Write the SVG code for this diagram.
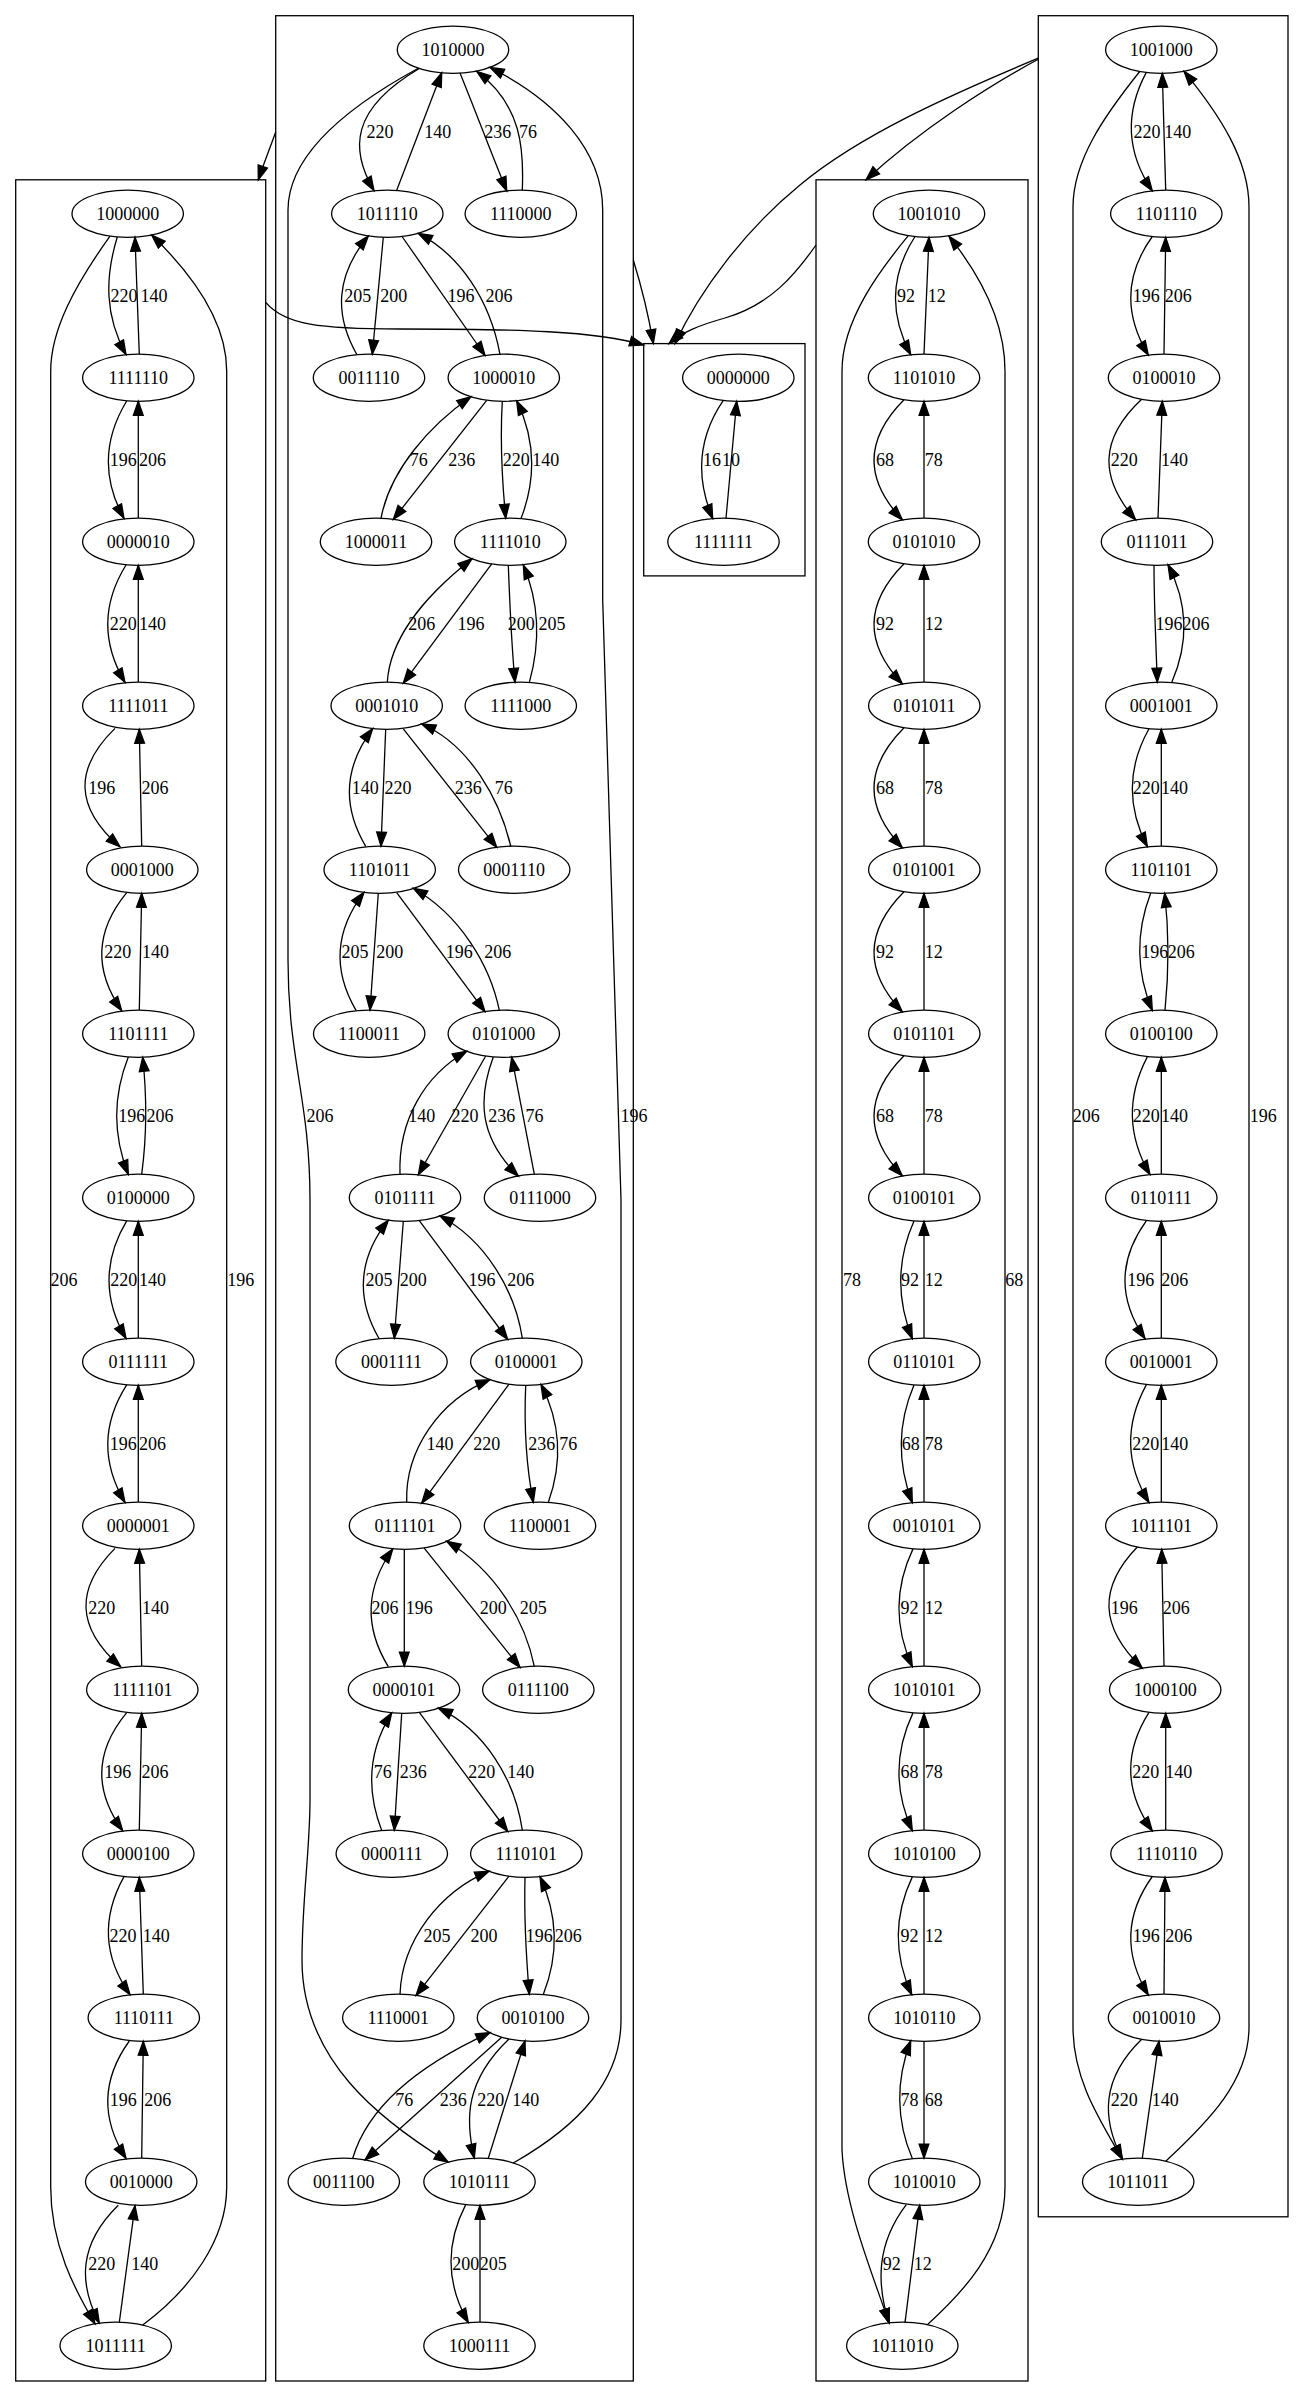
<svg xmlns="http://www.w3.org/2000/svg" width="1304" height="2397" viewBox="0 0 1304 2397">
<style>
text{font-family:"Liberation Serif","Times New Roman",serif;font-size:18px;text-anchor:middle;fill:#000}
.cl{fill:none;stroke:#000;stroke-width:1.3}
.n ellipse{fill:none;stroke:#000;stroke-width:1.3}
#edges path{fill:none;stroke:#000;stroke-width:1.3;marker-end:url(#ah)}
</style>
<defs>
<marker id="ah" markerUnits="userSpaceOnUse" markerWidth="17" markerHeight="13" viewBox="-1 -6.5 17 13" refX="14" refY="0" orient="auto"><path d="M0,-4.9 L14,0 L0,4.9 z" fill="#000" stroke="#000" stroke-width="1.3"/></marker>
</defs>
<rect width="1304" height="2397" fill="#fff"/>
<g id="clusters">
<rect class="cl" x="15.7" y="179.8" width="250" height="2201.2"/>
<rect class="cl" x="275.7" y="15.7" width="357.6" height="2365.3"/>
<rect class="cl" x="643.7" y="343.6" width="161.3" height="232.3"/>
<rect class="cl" x="816" y="179.8" width="212" height="2201.2"/>
<rect class="cl" x="1038.3" y="15.7" width="249.7" height="2201.1"/>
</g>
<g id="nodes">
<g id="n1000000" class="n"><ellipse cx="127.7" cy="213.7" rx="55.7" ry="23.6"/><text x="127.7" y="220">1000000</text></g>
<g id="n1111110" class="n"><ellipse cx="138.3" cy="377.7" rx="55.7" ry="23.6"/><text x="138.3" y="384">1111110</text></g>
<g id="n0000010" class="n"><ellipse cx="138.3" cy="541.7" rx="55.7" ry="23.6"/><text x="138.3" y="548">0000010</text></g>
<g id="n1111011" class="n"><ellipse cx="138.3" cy="705.7" rx="55.7" ry="23.6"/><text x="138.3" y="712">1111011</text></g>
<g id="n0001000" class="n"><ellipse cx="142.3" cy="869.7" rx="55.7" ry="23.6"/><text x="142.3" y="876">0001000</text></g>
<g id="n1101111" class="n"><ellipse cx="138.3" cy="1033.7" rx="55.7" ry="23.6"/><text x="138.3" y="1040">1101111</text></g>
<g id="n0100000" class="n"><ellipse cx="138.3" cy="1197.7" rx="55.7" ry="23.6"/><text x="138.3" y="1204">0100000</text></g>
<g id="n0111111" class="n"><ellipse cx="138.3" cy="1361.7" rx="55.7" ry="23.6"/><text x="138.3" y="1368">0111111</text></g>
<g id="n0000001" class="n"><ellipse cx="138.3" cy="1525.7" rx="55.7" ry="23.6"/><text x="138.3" y="1532">0000001</text></g>
<g id="n1111101" class="n"><ellipse cx="142.3" cy="1689.7" rx="55.7" ry="23.6"/><text x="142.3" y="1696">1111101</text></g>
<g id="n0000100" class="n"><ellipse cx="138.3" cy="1853.7" rx="55.7" ry="23.6"/><text x="138.3" y="1860">0000100</text></g>
<g id="n1110111" class="n"><ellipse cx="143.8" cy="2017.7" rx="55.7" ry="23.6"/><text x="143.8" y="2024">1110111</text></g>
<g id="n0010000" class="n"><ellipse cx="141.2" cy="2181.7" rx="55.7" ry="23.6"/><text x="141.2" y="2188">0010000</text></g>
<g id="n1011111" class="n"><ellipse cx="115.7" cy="2345.7" rx="55.7" ry="23.6"/><text x="115.7" y="2352">1011111</text></g>

<g id="n1010000" class="n"><ellipse cx="453" cy="49.7" rx="55.7" ry="23.6"/><text x="453" y="56">1010000</text></g>
<g id="n1011110" class="n"><ellipse cx="387.3" cy="213.7" rx="55.7" ry="23.6"/><text x="387.3" y="220">1011110</text></g>
<g id="n1110000" class="n"><ellipse cx="520.8" cy="213.7" rx="55.7" ry="23.6"/><text x="520.8" y="220">1110000</text></g>
<g id="n0011110" class="n"><ellipse cx="369" cy="377.7" rx="55.7" ry="23.6"/><text x="369" y="384">0011110</text></g>
<g id="n1000010" class="n"><ellipse cx="503.8" cy="377.7" rx="55.7" ry="23.6"/><text x="503.8" y="384">1000010</text></g>
<g id="n1000011" class="n"><ellipse cx="376" cy="541.7" rx="55.7" ry="23.6"/><text x="376" y="548">1000011</text></g>
<g id="n1111010" class="n"><ellipse cx="510.3" cy="541.7" rx="55.7" ry="23.6"/><text x="510.3" y="548">1111010</text></g>
<g id="n0001010" class="n"><ellipse cx="386.7" cy="705.7" rx="55.7" ry="23.6"/><text x="386.7" y="712">0001010</text></g>
<g id="n1111000" class="n"><ellipse cx="520.8" cy="705.7" rx="55.7" ry="23.6"/><text x="520.8" y="712">1111000</text></g>
<g id="n1101011" class="n"><ellipse cx="379.7" cy="869.7" rx="55.7" ry="23.6"/><text x="379.7" y="876">1101011</text></g>
<g id="n0001110" class="n"><ellipse cx="514.2" cy="869.7" rx="55.7" ry="23.6"/><text x="514.2" y="876">0001110</text></g>
<g id="n1100011" class="n"><ellipse cx="369.2" cy="1033.7" rx="55.7" ry="23.6"/><text x="369.2" y="1040">1100011</text></g>
<g id="n0101000" class="n"><ellipse cx="503.8" cy="1033.7" rx="55.7" ry="23.6"/><text x="503.8" y="1040">0101000</text></g>
<g id="n0101111" class="n"><ellipse cx="405" cy="1197.7" rx="55.7" ry="23.6"/><text x="405" y="1204">0101111</text></g>
<g id="n0111000" class="n"><ellipse cx="540" cy="1197.7" rx="55.7" ry="23.6"/><text x="540" y="1204">0111000</text></g>
<g id="n0001111" class="n"><ellipse cx="391.5" cy="1361.7" rx="55.7" ry="23.6"/><text x="391.5" y="1368">0001111</text></g>
<g id="n0100001" class="n"><ellipse cx="526.3" cy="1361.7" rx="55.7" ry="23.6"/><text x="526.3" y="1368">0100001</text></g>
<g id="n0111101" class="n"><ellipse cx="405" cy="1525.7" rx="55.7" ry="23.6"/><text x="405" y="1532">0111101</text></g>
<g id="n1100001" class="n"><ellipse cx="540" cy="1525.7" rx="55.7" ry="23.6"/><text x="540" y="1532">1100001</text></g>
<g id="n0000101" class="n"><ellipse cx="404" cy="1689.7" rx="55.7" ry="23.6"/><text x="404" y="1696">0000101</text></g>
<g id="n0111100" class="n"><ellipse cx="538.3" cy="1689.7" rx="55.7" ry="23.6"/><text x="538.3" y="1696">0111100</text></g>
<g id="n0000111" class="n"><ellipse cx="391.8" cy="1853.7" rx="55.7" ry="23.6"/><text x="391.8" y="1860">0000111</text></g>
<g id="n1110101" class="n"><ellipse cx="526.3" cy="1853.7" rx="55.7" ry="23.6"/><text x="526.3" y="1860">1110101</text></g>
<g id="n1110001" class="n"><ellipse cx="398.3" cy="2017.7" rx="55.7" ry="23.6"/><text x="398.3" y="2024">1110001</text></g>
<g id="n0010100" class="n"><ellipse cx="533" cy="2017.7" rx="55.7" ry="23.6"/><text x="533" y="2024">0010100</text></g>
<g id="n0011100" class="n"><ellipse cx="343.8" cy="2181.7" rx="55.7" ry="23.6"/><text x="343.8" y="2188">0011100</text></g>
<g id="n1010111" class="n"><ellipse cx="479.5" cy="2181.7" rx="55.7" ry="23.6"/><text x="479.5" y="2188">1010111</text></g>
<g id="n1000111" class="n"><ellipse cx="479.5" cy="2345.7" rx="55.7" ry="23.6"/><text x="479.5" y="2352">1000111</text></g>

<g id="n0000000" class="n"><ellipse cx="738.3" cy="377.7" rx="55.7" ry="23.6"/><text x="738.3" y="384">0000000</text></g>
<g id="n1111111" class="n"><ellipse cx="723.5" cy="541.7" rx="55.7" ry="23.6"/><text x="723.5" y="548">1111111</text></g>

<g id="n1001010" class="n"><ellipse cx="929" cy="213.7" rx="55.7" ry="23.6"/><text x="929" y="220">1001010</text></g>
<g id="n1101010" class="n"><ellipse cx="924" cy="377.7" rx="55.7" ry="23.6"/><text x="924" y="384">1101010</text></g>
<g id="n0101010" class="n"><ellipse cx="924" cy="541.7" rx="55.7" ry="23.6"/><text x="924" y="548">0101010</text></g>
<g id="n0101011" class="n"><ellipse cx="924.3" cy="705.7" rx="55.7" ry="23.6"/><text x="924.3" y="712">0101011</text></g>
<g id="n0101001" class="n"><ellipse cx="924.3" cy="869.7" rx="55.7" ry="23.6"/><text x="924.3" y="876">0101001</text></g>
<g id="n0101101" class="n"><ellipse cx="924.3" cy="1033.7" rx="55.7" ry="23.6"/><text x="924.3" y="1040">0101101</text></g>
<g id="n0100101" class="n"><ellipse cx="924.3" cy="1197.7" rx="55.7" ry="23.6"/><text x="924.3" y="1204">0100101</text></g>
<g id="n0110101" class="n"><ellipse cx="924.3" cy="1361.7" rx="55.7" ry="23.6"/><text x="924.3" y="1368">0110101</text></g>
<g id="n0010101" class="n"><ellipse cx="924.3" cy="1525.7" rx="55.7" ry="23.6"/><text x="924.3" y="1532">0010101</text></g>
<g id="n1010101" class="n"><ellipse cx="924.3" cy="1689.7" rx="55.7" ry="23.6"/><text x="924.3" y="1696">1010101</text></g>
<g id="n1010100" class="n"><ellipse cx="924.3" cy="1853.7" rx="55.7" ry="23.6"/><text x="924.3" y="1860">1010100</text></g>
<g id="n1010110" class="n"><ellipse cx="924.3" cy="2017.7" rx="55.7" ry="23.6"/><text x="924.3" y="2024">1010110</text></g>
<g id="n1010010" class="n"><ellipse cx="924.3" cy="2181.7" rx="55.7" ry="23.6"/><text x="924.3" y="2188">1010010</text></g>
<g id="n1011010" class="n"><ellipse cx="902.3" cy="2345.7" rx="55.7" ry="23.6"/><text x="902.3" y="2352">1011010</text></g>

<g id="n1001000" class="n"><ellipse cx="1161.3" cy="49.7" rx="55.7" ry="23.6"/><text x="1161.3" y="56">1001000</text></g>
<g id="n1101110" class="n"><ellipse cx="1166.3" cy="213.7" rx="55.7" ry="23.6"/><text x="1166.3" y="220">1101110</text></g>
<g id="n0100010" class="n"><ellipse cx="1164" cy="377.7" rx="55.7" ry="23.6"/><text x="1164" y="384">0100010</text></g>
<g id="n0111011" class="n"><ellipse cx="1157" cy="541.7" rx="55.7" ry="23.6"/><text x="1157" y="548">0111011</text></g>
<g id="n0001001" class="n"><ellipse cx="1161.3" cy="705.7" rx="55.7" ry="23.6"/><text x="1161.3" y="712">0001001</text></g>
<g id="n1101101" class="n"><ellipse cx="1161.3" cy="869.7" rx="55.7" ry="23.6"/><text x="1161.3" y="876">1101101</text></g>
<g id="n0100100" class="n"><ellipse cx="1161.3" cy="1033.7" rx="55.7" ry="23.6"/><text x="1161.3" y="1040">0100100</text></g>
<g id="n0110111" class="n"><ellipse cx="1161.3" cy="1197.7" rx="55.7" ry="23.6"/><text x="1161.3" y="1204">0110111</text></g>
<g id="n0010001" class="n"><ellipse cx="1161.3" cy="1361.7" rx="55.7" ry="23.6"/><text x="1161.3" y="1368">0010001</text></g>
<g id="n1011101" class="n"><ellipse cx="1161.3" cy="1525.7" rx="55.7" ry="23.6"/><text x="1161.3" y="1532">1011101</text></g>
<g id="n1000100" class="n"><ellipse cx="1165.2" cy="1689.7" rx="55.7" ry="23.6"/><text x="1165.2" y="1696">1000100</text></g>
<g id="n1110110" class="n"><ellipse cx="1166.5" cy="1853.7" rx="55.7" ry="23.6"/><text x="1166.5" y="1860">1110110</text></g>
<g id="n0010010" class="n"><ellipse cx="1164" cy="2017.7" rx="55.7" ry="23.6"/><text x="1164" y="2024">0010010</text></g>
<g id="n1011011" class="n"><ellipse cx="1138.2" cy="2181.7" rx="55.7" ry="23.6"/><text x="1138.2" y="2188">1011011</text></g>
</g>

<g id="edges">
<!-- cluster 1 -->
<path d="M117.3,237 C104.8,277.6 104.8,316.1 126,354.5"/><text x="124" y="302">220</text>
<path d="M139.3,354.2 L135,237.2"/><text x="154" y="302">140</text>
<path d="M126.7,401 C102.6,440.6 102.6,479.4 124,518.4"/><text x="123.3" y="466">196</text>
<path d="M138.3,518.1 L138.3,401.3"/><text x="152.5" y="466">206</text>
<path d="M126,565 C101.8,604.2 101.8,643.2 125,682.4"/><text x="123.3" y="630">220</text>
<path d="M138.3,682.1 L138.3,565.3"/><text x="152.5" y="630">140</text>
<path d="M115,728.4 C74.2,768.2 74.2,807.2 120,846.8"/><text x="101.7" y="794">196</text>
<path d="M141.7,846.1 L139.3,729.3"/><text x="155" y="794">206</text>
<path d="M126.7,892.7 C94.2,932.2 94.2,971.2 121.7,1010.6"/><text x="117.7" y="958">220</text>
<path d="M139.3,1010.1 L141.7,893.3"/><text x="155.5" y="958">140</text>
<path d="M128.3,1057 C112.8,1096.2 112.8,1135.2 128.3,1174.3"/><text x="131.7" y="1122">196</text>
<path d="M141.7,1174.1 C146.9,1135.2 146.9,1096.2 142.7,1057.3"/><text x="160" y="1122">206</text>
<path d="M126.7,1220.9 C103.2,1260.2 103.2,1299.2 126,1338.4"/><text x="123.8" y="1286">220</text>
<path d="M138.3,1338.1 L138.3,1221.3"/><text x="152.5" y="1286">140</text>
<path d="M126.7,1384.9 C101.7,1424.2 101.7,1463.2 125,1502.4"/><text x="123.3" y="1450">196</text>
<path d="M138.3,1502.1 L138.3,1385.3"/><text x="152.5" y="1450">206</text>
<path d="M115,1548.4 C75.4,1588.2 75.4,1627.2 120.7,1666.8"/><text x="101.7" y="1614">220</text>
<path d="M141.7,1666.1 L139.3,1549.3"/><text x="155.5" y="1614">140</text>
<path d="M126.7,1712.7 C94,1752.2 94,1791.2 122.7,1830.6"/><text x="117.7" y="1778">196</text>
<path d="M139.3,1830.1 L141.7,1713.3"/><text x="155" y="1778">206</text>
<path d="M124,1876.6 C102.1,1916.2 102.1,1955.2 130,1994.6"/><text x="123" y="1942">220</text>
<path d="M143.3,1994.1 L139.3,1877.3"/><text x="156.3" y="1942">140</text>
<path d="M129.3,2041 C101.1,2080.2 101.1,2119.2 126,2158.4"/><text x="123.3" y="2106">196</text>
<path d="M141.7,2158.1 L143.3,2041.3"/><text x="157.7" y="2106">206</text>
<path d="M118.3,2205.2 C78.4,2244.2 78.4,2283.2 99.3,2323.1"/><text x="101.7" y="2270">220</text>
<path d="M119.3,2322.3 L135,2205.6"/><text x="144.7" y="2270">140</text>
<path d="M110,236.1 C75,285 50.7,330 50.7,371 L50.7,2187 C50.7,2245 75,2290 95,2323.8"/><text x="64" y="1286">206</text>
<path d="M142.7,2325 C190,2290 226.7,2240 226.7,2187 L226.7,371 C226.7,320 190,272 151.7,235"/><text x="240.8" y="1286">196</text>
<!-- cluster 2 -->
<path d="M419.3,68.5 C350,109.3 350,149.8 374,190.6"/><text x="380" y="138">220</text>
<path d="M396.7,190.3 L441.7,72.8"/><text x="437.7" y="138">140</text>
<path d="M460,73.1 C475,110 490,150 506.7,190.9"/><text x="497.7" y="138">236</text>
<path d="M522.3,190.1 C524,150 522,105 476.7,71.3"/><text x="528" y="138">76</text>
<path d="M418.3,68.2 C360,100 288,150 288,210 L288,960 C288,1060 310,1100 310,1200 L310,1800 C310,1850 302,1900 302,1960 C302,2060 380,2120 448.3,2162.2"/><text x="320" y="1122">206</text>
<path d="M513.3,2163 C580,2125 621,2080 621,2020 L621,1200 L602.7,600 L602.7,210 C602.7,150 555,100 490,67.5"/><text x="634" y="1122">196</text>
<path d="M383.3,237.2 L372.3,354.2"/><text x="393.7" y="302">200</text>
<path d="M356.7,354.3 C334.8,315.5 334.8,276.7 368.3,235.9"/><text x="357.7" y="302">205</text>
<path d="M401.7,236 L485,355.5"/><text x="461" y="302">196</text>
<path d="M500,354.4 C490,300 460,255 418.3,233.4"/><text x="499" y="302">206</text>
<path d="M486.7,400.4 L393.3,519.4"/><text x="461.7" y="466">236</text>
<path d="M381,518.3 C390,470 430,425 471,396.7"/><text x="418.7" y="466">76</text>
<path d="M502.3,401.2 C500,440 502,480 505.7,518.3"/><text x="516.3" y="466">220</text>
<path d="M521,518.6 C536,479.5 536,440.5 516.7,400.9"/><text x="545.8" y="466">140</text>
<path d="M491.7,563.8 L403.3,683.2"/><text x="471" y="630">196</text>
<path d="M387.3,682.1 C390,640 420,600 472,558.8"/><text x="421.7" y="630">206</text>
<path d="M508.3,565.3 C510,610 512,650 515,682.3"/><text x="521.3" y="630">200</text>
<path d="M529.3,682.6 C540.2,643.6 540.2,605 523.3,565.1"/><text x="552" y="630">205</text>
<path d="M385.7,729.3 L381,846.2"/><text x="398" y="794">220</text>
<path d="M365.7,846.4 C342.7,807.5 342.7,768.6 372.7,728.6"/><text x="365.3" y="794">140</text>
<path d="M403.3,728.8 L496.7,847.3"/><text x="468.3" y="794">236</text>
<path d="M510.7,846.2 C500,800 470,745 421.7,724"/><text x="503.7" y="794">76</text>
<path d="M378.3,893.3 L370,1010.1"/><text x="389.7" y="958">200</text>
<path d="M356,1010.3 C333.3,971.5 333.3,932.7 364,892.4"/><text x="355" y="958">205</text>
<path d="M396.7,892.6 L485,1011.6"/><text x="459.3" y="958">196</text>
<path d="M499.3,1010.2 C490,965 460,915 413.3,888.3"/><text x="497.7" y="958">206</text>
<path d="M485.7,1056 L418.3,1174.8"/><text x="465" y="1122">220</text>
<path d="M400,1174.3 C398,1120 425,1075 466.7,1051.3"/><text x="421.7" y="1122">140</text>
<path d="M493.3,1057.1 C478.1,1097.9 478.1,1136.6 518.3,1176"/><text x="501.7" y="1122">236</text>
<path d="M534.3,1174.2 L511.7,1057.1"/><text x="534.5" y="1122">76</text>
<path d="M403.3,1221.3 L394.3,1338.2"/><text x="413.3" y="1286">200</text>
<path d="M379,1338.5 C356.5,1299.5 356.5,1260.5 388.3,1220.2"/><text x="379" y="1286">205</text>
<path d="M419.3,1220.6 L507.7,1339.5"/><text x="482" y="1286">196</text>
<path d="M522.3,1338.2 C515,1290 485,1240 440,1216"/><text x="520.7" y="1286">206</text>
<path d="M509,1384.2 L421.7,1503.2"/><text x="486.7" y="1450">220</text>
<path d="M406.7,1502.1 C405,1450 440,1400 490,1379.7"/><text x="440" y="1450">140</text>
<path d="M525.7,1385.3 C524,1425 526,1465 533.3,1502.3"/><text x="541.7" y="1450">236</text>
<path d="M548.3,1502.5 C562.1,1463.8 562.1,1425.2 541,1384.5"/><text x="568.3" y="1450">76</text>
<path d="M404.3,1549.3 L404.3,1666.1"/><text x="419.3" y="1614">196</text>
<path d="M388.3,1666.6 C364.5,1627.8 364.5,1589 392.7,1549"/><text x="385" y="1614">206</text>
<path d="M424,1547.9 L520,1667.5"/><text x="493.3" y="1614">200</text>
<path d="M534.3,1666.3 C525,1620 495,1570 446.7,1541.3"/><text x="533.3" y="1614">205</text>
<path d="M401.7,1713.3 L394.3,1830.2"/><text x="413.3" y="1778">236</text>
<path d="M381.7,1830.4 C366.7,1791.6 366.7,1752.8 391.7,1712.8"/><text x="382.8" y="1778">76</text>
<path d="M419.3,1712.3 L507.7,1831.5"/><text x="481.7" y="1778">220</text>
<path d="M522.3,1830.2 C515,1780 485,1730 438.3,1708.2"/><text x="520.7" y="1778">140</text>
<path d="M509,1876.1 L416,1995.4"/><text x="484" y="1942">200</text>
<path d="M400,1994.2 C402,1940 440,1892 489,1871.2"/><text x="437" y="1942">205</text>
<path d="M525,1877.3 C524,1915 526,1955 529.3,1994.2"/><text x="539.2" y="1942">196</text>
<path d="M543.3,1994.5 C558.5,1955.5 558.5,1916.5 540,1876.9"/><text x="568.3" y="1942">206</text>
<path d="M501.7,2037.2 L365,2160"/><text x="453.3" y="2106">236</text>
<path d="M352.7,2158.2 C370,2100 430,2060 490,2032.6"/><text x="404.2" y="2106">76</text>
<path d="M509,2039 C465.1,2080.7 465.1,2119.5 474.3,2158.2"/><text x="490.8" y="2106">220</text>
<path d="M488.3,2158.3 L525,2041"/><text x="525.8" y="2106">140</text>
<path d="M465.7,2204.6 C445.7,2243.6 445.7,2283 468.3,2322.6"/><text x="465.7" y="2270">200</text>
<path d="M480,2322.1 L480,2205.3"/><text x="493.3" y="2270">205</text>
<!-- cluster 3 -->
<path d="M723.3,400.4 C696.3,440 696.3,479.3 712.7,518.6"/><text x="712" y="466">16</text>
<path d="M726,518.2 L736.7,401.3"/><text x="731" y="466">10</text>
<!-- cluster 4 -->
<path d="M915,236.5 C890,275.4 890,315.8 910.7,354.6"/><text x="906" y="302">92</text>
<path d="M924,354.1 L929,237.3"/><text x="936.7" y="302">12</text>
<path d="M904,399.7 C864.3,439.7 864.3,479.7 902.3,519.7"/><text x="885" y="466">68</text>
<path d="M924,518.1 L924,401.3"/><text x="933.7" y="466">78</text>
<path d="M904,563.7 C864.3,603.7 864.3,643.7 902.3,683.7"/><text x="885" y="630">92</text>
<path d="M924,682.1 L924,565.3"/><text x="933.7" y="630">12</text>
<path d="M904,727.7 C864.3,767.7 864.3,807.7 902.3,847.7"/><text x="885" y="794">68</text>
<path d="M924,846.1 L924,729.3"/><text x="933.7" y="794">78</text>
<path d="M904,891.7 C864.3,931.7 864.3,971.7 902.3,1011.7"/><text x="885" y="958">92</text>
<path d="M924,1010.1 L924,893.3"/><text x="933.7" y="958">12</text>
<path d="M904,1055.7 C864.3,1095.7 864.3,1135.7 902.3,1175.7"/><text x="885" y="1122">68</text>
<path d="M924,1174.1 L924,1057.3"/><text x="933.7" y="1122">78</text>
<path d="M914,1220.9 C896.6,1260.1 896.6,1299.4 912.3,1338.6"/><text x="910" y="1286">92</text>
<path d="M924,1338.1 L924,1221.3"/><text x="933.7" y="1286">12</text>
<path d="M914,1384.9 C897.3,1424.1 897.3,1463.4 912.3,1502.6"/><text x="910.7" y="1450">68</text>
<path d="M924,1502.1 L924,1385.3"/><text x="933.7" y="1450">78</text>
<path d="M913,1548.9 C894.4,1588.1 894.4,1627.4 912.3,1666.6"/><text x="909.5" y="1614">92</text>
<path d="M924,1666.1 L924,1549.3"/><text x="933.7" y="1614">12</text>
<path d="M913,1712.9 C894.4,1752.1 894.4,1791.4 912.3,1830.6"/><text x="909.5" y="1778">68</text>
<path d="M924,1830.1 L924,1713.3"/><text x="933.7" y="1778">78</text>
<path d="M912.3,1876.9 C893.7,1916.1 893.7,1955.4 911.7,1994.6"/><text x="909.5" y="1942">92</text>
<path d="M924,1994.1 L924,1877.3"/><text x="933.7" y="1942">12</text>
<path d="M912.3,2158.6 C895.8,2119.4 895.8,2080.1 910.7,2040.9"/><text x="909.5" y="2106">78</text>
<path d="M924,2041.3 L924,2158.1"/><text x="933.7" y="2106">68</text>
<path d="M906.3,2204.6 C876.4,2243.9 876.4,2283.2 889,2322.8"/><text x="891.8" y="2270">92</text>
<path d="M905,2322.7 L919.7,2205.2"/><text x="922.7" y="2270">12</text>
<path d="M908.3,235.7 C880,270 842,320 842,371 L842,2150 C845,2210 875,2280 889,2323"/><text x="852" y="1286">78</text>
<path d="M927.3,2324.7 C960,2295 1005,2250 1005,2187 L1005,371 C1005,320 980,275 949,236.2"/><text x="1014.3" y="1286">68</text>
<!-- cluster 5 -->
<path d="M1146.3,72.4 C1125.3,111.7 1125.3,151 1152.3,190.9"/><text x="1147" y="138">220</text>
<path d="M1165.7,190.1 L1162.3,73.3"/><text x="1177.8" y="138">140</text>
<path d="M1152.3,236.5 C1124.2,275.8 1124.2,315.1 1148.3,355"/><text x="1146.2" y="302">196</text>
<path d="M1164,354.1 L1165.7,237.3"/><text x="1178.3" y="302">206</text>
<path d="M1141.7,399.3 C1099.1,439 1099.1,478.2 1135.7,519.9"/><text x="1124.3" y="466">220</text>
<path d="M1158,518.1 L1162.3,401.2"/><text x="1174.5" y="466">140</text>
<path d="M1154,565.1 C1154,605 1156,645 1157.3,682.1"/><text x="1169" y="630">196</text>
<path d="M1171.7,682.4 C1188.7,643.6 1188.7,604.8 1168,564.8"/><text x="1196" y="630">206</text>
<path d="M1149,728.7 C1127,767.9 1127,807.1 1147.3,846.6"/><text x="1146.2" y="794">220</text>
<path d="M1161.3,846.1 L1161.3,729.3"/><text x="1174.5" y="794">140</text>
<path d="M1150.7,892.9 C1135.8,932 1135.8,971.2 1152.3,1010.4"/><text x="1154.8" y="958">196</text>
<path d="M1165,1010.1 C1169,971.2 1169,932.1 1164.7,893.3"/><text x="1181.3" y="958">206</text>
<path d="M1147.3,1056.9 C1126.9,1096.1 1126.9,1135.3 1150,1174.6"/><text x="1146.2" y="1122">220</text>
<path d="M1161.3,1174.1 L1161.3,1057.3"/><text x="1174.5" y="1122">140</text>
<path d="M1146.3,1220.9 C1118.1,1260.1 1118.1,1299.4 1145,1338.6"/><text x="1140.7" y="1286">196</text>
<path d="M1161.3,1338.1 L1161.3,1221.3"/><text x="1174.8" y="1286">206</text>
<path d="M1146.3,1384.9 C1125,1424.1 1125,1463.4 1149,1502.5"/><text x="1145.7" y="1450">220</text>
<path d="M1161.3,1502.1 L1161.3,1385.3"/><text x="1174.8" y="1450">140</text>
<path d="M1137.3,1547 C1098.7,1587 1098.7,1626.5 1142.3,1668.2"/><text x="1124.3" y="1614">196</text>
<path d="M1164,1666.1 L1161.7,1549.3"/><text x="1176.3" y="1614">206</text>
<path d="M1149,1712.3 C1124,1751.7 1124,1791 1152.3,1830.9"/><text x="1145.7" y="1778">220</text>
<path d="M1165.7,1830.1 L1165.7,1713.3"/><text x="1178.7" y="1778">140</text>
<path d="M1152.3,1876.5 C1124.2,1915.8 1124.2,1955.1 1148.3,1995"/><text x="1146.2" y="1942">196</text>
<path d="M1164,1994.1 L1165,1877.3"/><text x="1178.7" y="1942">206</text>
<path d="M1141.7,2039.3 C1101.3,2078.6 1101.3,2118.4 1122.3,2159.1"/><text x="1124.3" y="2106">220</text>
<path d="M1142.3,2158.2 L1159,2041.2"/><text x="1165.3" y="2106">140</text>
<path d="M1139.7,71.5 C1105,115 1073,160 1073,207 L1073,2027 C1073,2080 1100,2120 1122.3,2159.1"/><text x="1086.3" y="1122">206</text>
<path d="M1165.7,2161.2 C1210,2120 1249,2080 1249,2027 L1249,207 C1249,160 1220,115 1184,71.3"/><text x="1263.2" y="1122">196</text>
<!-- inter-cluster -->
<path d="M275.7,132 C270,148 264,163 258.3,179.8"/>
<path d="M265.7,302.3 C285,325 320,329 400,329 C520,329 595,331 643.7,345"/>
<path d="M633.3,260 C641,285 648,312 653.3,343.6"/>
<path d="M1038.3,58.2 C950,95 860,135 800,185 C745,230 700,290 675,343.6"/>
<path d="M816,245 C795,275 770,305 725,318 C700,325 682,332 669,343.6"/>
<path d="M1038.3,59.3 C990,85 920,130 866,179.8"/>
</g>
</svg>
